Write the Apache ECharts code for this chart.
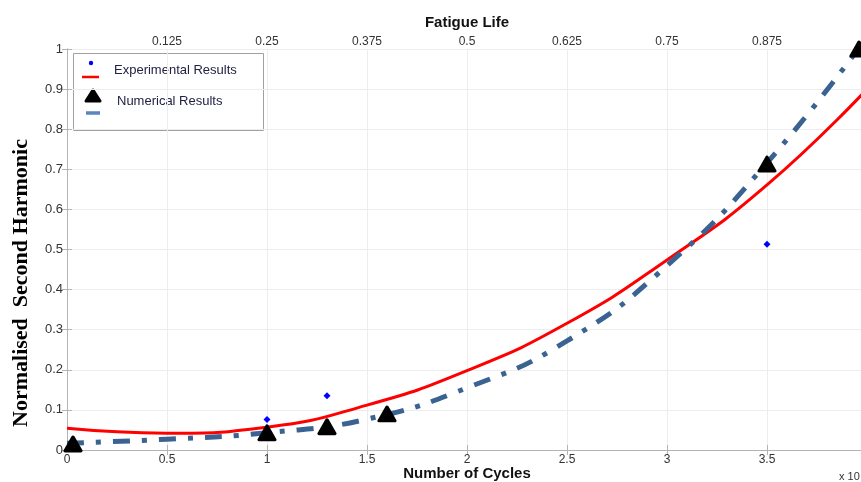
<!DOCTYPE html>
<html>
<head>
<meta charset="utf-8">
<script src="https://cdn.jsdelivr.net/npm/echarts@6/dist/echarts.min.js"></script>
<style>
html, body { margin: 0; padding: 0; background: #fff; }
#chart { width: 861px; height: 482px; }
</style>
</head>
<body>
<div id="chart"></div>
<script>
// values (x in units of 10^4 cycles)
const fitCycles = [0, 0.5, 1, 1.5, 2, 2.5, 3, 3.5, 4]
const expFitValues = [0.054, 0.042, 0.057, 0.112, 0.198, 0.316, 0.474, 0.661, 0.90]
const numFitValues = [0.017, 0.027, 0.043, 0.077, 0.155, 0.272, 0.46, 0.716, 1.03]

const expCycles = [1, 1.3, 3.5]
const expValues = [0.076, 0.135, 0.513]

const numCycles = [0.03, 1, 1.3, 1.6, 3.5, 3.96]
const numValues = [0.015, 0.043, 0.058, 0.09, 0.713, 1.0]

const pair = (xs, ys) => xs.map((x, i) => [x, ys[i]])

const axisGray = '#b4b4b4'
const labelStyle = { color: '#333', fontSize: 12, fontFamily: 'Liberation Sans, Arial' }

const chart = echarts.init(document.getElementById('chart'), null, { renderer: 'canvas' })

const option = {
  animation: false,
  backgroundColor: '#fff',
  grid: { left: 67, top: 49, width: 800, height: 401, outerBoundsMode: 'none', containLabel: false },
  xAxis: [
    {
      type: 'value', position: 'bottom', min: 0, max: 4, interval: 0.5,
      name: 'Number of Cycles', nameLocation: 'middle', nameGap: 16, nameMoveOverlap: false,
      nameTextStyle: { fontSize: 15, fontWeight: 'bold', color: '#111', fontFamily: 'Liberation Sans, Arial' },
      axisLine: { lineStyle: { color: axisGray } },
      axisTick: { inside: true, length: 5, lineStyle: { color: axisGray } },
      axisLabel: Object.assign({ margin: 4, showMaxLabel: false }, labelStyle),
      splitLine: { show: true, lineStyle: { color: '#ededed' } }
    },
    {
      type: 'value', position: 'top', min: 0, max: 1, interval: 0.125,
      name: 'Fatigue Life', nameLocation: 'middle', nameGap: 19, nameMoveOverlap: false,
      nameTextStyle: { fontSize: 15, fontWeight: 'bold', color: '#111', fontFamily: 'Liberation Sans, Arial' },
      axisLine: { lineStyle: { color: axisGray } },
      axisTick: { inside: true, length: 5, lineStyle: { color: axisGray } },
      axisLabel: Object.assign({ margin: 1, showMinLabel: false, showMaxLabel: false }, labelStyle),
      splitLine: { show: false }
    }
  ],
  yAxis: [
    {
      type: 'value', position: 'left', min: 0, max: 1, interval: 0.1,
      axisLine: { show: true, lineStyle: { color: axisGray } },
      axisTick: { show: true, inside: true, length: 5, lineStyle: { color: axisGray } },
      axisLabel: Object.assign({}, labelStyle, { margin: 4, fontSize: 13 }),
      splitLine: { show: true, lineStyle: { color: '#ededed' } }
    },
    {
      type: 'value', position: 'right', min: 0, max: 1, interval: 0.1,
      axisLine: { show: true, lineStyle: { color: axisGray } },
      axisTick: { show: true, inside: true, length: 5, lineStyle: { color: axisGray } },
      axisLabel: { show: false },
      splitLine: { show: false }
    }
  ],
  series: [
    {
      name: 'Experimental fit', type: 'line', smooth: 0.5,
      showSymbol: false, symbol: 'none',
      lineStyle: { color: '#ff0000', width: 3 },
      data: pair(fitCycles, expFitValues), z: 2
    },
    {
      name: 'Numerical fit', type: 'line', smooth: 0.5,
      showSymbol: false, symbol: 'none',
      lineStyle: { color: '#3b6392', width: 5, type: [17, 12, 5, 12], cap: 'butt' },
      data: pair(fitCycles, numFitValues), z: 3
    },
    {
      name: 'Numerical Results', type: 'scatter', symbol: 'triangle', symbolSize: [16, 14],
      itemStyle: { color: '#000', borderColor: '#000', borderWidth: 3, borderJoin: 'round', opacity: 1 },
      data: pair(numCycles, numValues), z: 4
    },
    {
      name: 'Experimental Results', type: 'scatter', symbol: 'diamond', symbolSize: 7,
      itemStyle: { color: '#0000ff', opacity: 1 },
      data: pair(expCycles, expValues), z: 5
    }
  ],
  graphic: [
    {
      type: 'text', x: 21, y: 283, rotation: Math.PI / 2,
      style: {
        text: 'Normalised  Second Harmonic', fill: '#000',
        font: 'bold 22px "Liberation Serif", "Times New Roman", serif',
        textAlign: 'center', textVerticalAlign: 'middle'
      }
    },
    {
      type: 'text', x: 839, y: 477,
      style: { text: 'x 10', fill: '#333', font: '11px "Liberation Sans", Arial', textVerticalAlign: 'middle' }
    },
    {
      type: 'group', z: 100,
      children: [
        { type: 'rect', shape: { x: 73.5, y: 53.5, width: 190, height: 77 }, style: { fill: '#fff', stroke: '#a0a0a0', lineWidth: 1 } },
        { type: 'circle', shape: { cx: 91, cy: 63, r: 2.2 }, style: { fill: '#0000ff' } },
        { type: 'line', shape: { x1: 82, y1: 77, x2: 99, y2: 77 }, style: { stroke: '#ff0000', lineWidth: 2.5 } },
        { type: 'polygon', shape: { points: [[86, 101], [100, 101], [93, 90]] }, style: { fill: '#000', stroke: '#000', lineWidth: 3, lineJoin: 'round' } },
        { type: 'line', shape: { x1: 86, y1: 113, x2: 100, y2: 113 }, style: { stroke: '#5a86bd', lineWidth: 3.5 } },
        { type: 'text', x: 114, y: 70, style: { text: 'Experimental Results', fill: '#222244', font: '13px "Liberation Sans", Arial', textVerticalAlign: 'middle' } },
        { type: 'text', x: 117, y: 101, style: { text: 'Numerical Results', fill: '#222244', font: '13px "Liberation Sans", Arial', textVerticalAlign: 'middle' } }
      ]
    }
  ]
}

chart.setOption(option)
</script>
</body>
</html>
